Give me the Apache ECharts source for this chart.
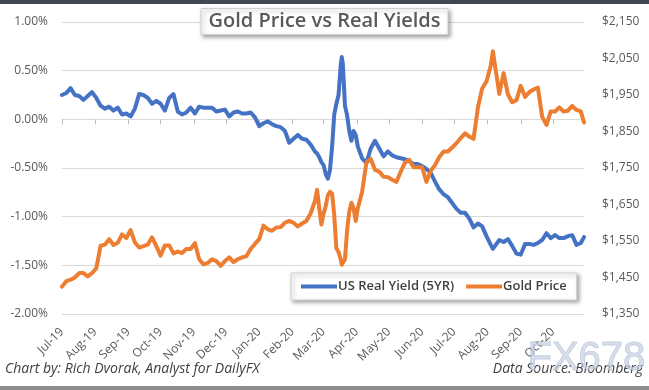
<!DOCTYPE html>
<html>
<head>
<meta charset="utf-8">
<script src="https://cdn.jsdelivr.net/npm/echarts@6/dist/echarts.min.js"></script>
<style>
html,body{margin:0;padding:0;background:#fff;}
#chart{width:649px;height:390px;}
</style>
</head>
<body>
<div id="chart"></div>
<script>
const dates = ['2019-07-01','2019-07-05','2019-07-09','2019-07-13','2019-07-17','2019-07-21','2019-07-25','2019-07-29',
'2019-08-02','2019-08-06','2019-08-10','2019-08-14','2019-08-18','2019-08-22','2019-08-26','2019-08-30',
'2019-09-03','2019-09-07','2019-09-11','2019-09-15','2019-09-19','2019-09-23','2019-09-27',
'2019-10-01','2019-10-05','2019-10-09','2019-10-13','2019-10-17','2019-10-21','2019-10-25','2019-10-29',
'2019-11-02','2019-11-06','2019-11-10','2019-11-14','2019-11-18','2019-11-22','2019-11-26','2019-11-30',
'2019-12-04','2019-12-08','2019-12-12','2019-12-16','2019-12-20','2019-12-24','2019-12-28',
'2020-01-01','2020-01-05','2020-01-09','2020-01-13','2020-01-17','2020-01-21','2020-01-25','2020-01-29',
'2020-02-02','2020-02-06','2020-02-10','2020-02-14','2020-02-18','2020-02-22','2020-02-24','2020-02-26','2020-02-28',
'2020-03-01','2020-03-03','2020-03-05','2020-03-07','2020-03-09','2020-03-11','2020-03-13','2020-03-15','2020-03-17','2020-03-18','2020-03-19',
'2020-03-21','2020-03-23','2020-03-25','2020-03-27','2020-03-29','2020-03-31',
'2020-04-02','2020-04-06','2020-04-10','2020-04-14','2020-04-18','2020-04-22','2020-04-26','2020-04-30',
'2020-05-04','2020-05-08','2020-05-12','2020-05-16','2020-05-20','2020-05-24','2020-05-28',
'2020-06-01','2020-06-05','2020-06-09','2020-06-13','2020-06-17','2020-06-21','2020-06-25','2020-06-29',
'2020-07-03','2020-07-07','2020-07-11','2020-07-15','2020-07-19','2020-07-23','2020-07-27','2020-07-31',
'2020-08-04','2020-08-06','2020-08-08','2020-08-12','2020-08-16','2020-08-20','2020-08-24','2020-08-28',
'2020-09-01','2020-09-05','2020-09-09','2020-09-13','2020-09-17','2020-09-21','2020-09-25','2020-09-29',
'2020-10-03','2020-10-07','2020-10-11','2020-10-15','2020-10-19','2020-10-23','2020-10-27','2020-10-30'];

const realYield = [0.25,0.27,0.32,0.25,0.24,0.20,0.24,0.28,
0.22,0.14,0.11,0.13,0.09,0.12,0.05,0.06,
0.03,0.11,0.26,0.25,0.22,0.16,0.19,
0.16,0.09,0.22,0.26,0.08,0.05,0.07,0.12,
0.06,0.13,0.12,0.12,0.12,0.08,0.09,0.10,
0.03,0.07,0.08,0.06,0.06,0.07,0.02,
-0.07,-0.04,-0.02,-0.05,-0.07,-0.08,-0.12,-0.24,
-0.20,-0.16,-0.20,-0.21,-0.26,-0.33,-0.35,-0.39,-0.44,
-0.47,-0.56,-0.61,-0.52,-0.28,0.05,0.16,0.25,0.55,0.64,0.57,
0.14,0.04,-0.12,-0.22,-0.12,-0.16,
-0.28,-0.40,-0.45,-0.30,-0.22,-0.30,-0.38,-0.33,
-0.37,-0.39,-0.40,-0.41,-0.43,-0.46,-0.46,
-0.48,-0.51,-0.55,-0.64,-0.72,-0.77,-0.80,-0.86,
-0.92,-0.96,-0.96,-1.02,-1.11,-1.07,-1.10,-1.20,
-1.29,-1.33,-1.30,-1.24,-1.26,-1.23,-1.30,-1.38,
-1.39,-1.28,-1.28,-1.29,-1.27,-1.24,-1.17,-1.22,
-1.19,-1.22,-1.22,-1.20,-1.19,-1.29,-1.27,-1.21];

const goldPrice = [1425,1440,1444,1450,1462,1462,1453,1462,
1475,1537,1540,1555,1539,1545,1568,1558,
1580,1546,1532,1536,1540,1560,1536,
1510,1538,1538,1516,1521,1517,1528,1528,
1544,1500,1486,1490,1500,1495,1482,1495,
1505,1492,1500,1505,1508,1528,1542,
1555,1592,1582,1578,1587,1588,1600,1605,
1600,1590,1598,1605,1626,1660,1690,1640,1595,
1625,1645,1675,1685,1680,1620,1530,1520,1500,1485,1480,
1500,1580,1630,1655,1640,1605,
1640,1685,1765,1775,1745,1740,1726,1725,
1718,1712,1740,1765,1772,1752,1752,
1752,1712,1742,1758,1780,1795,1795,1806,
1818,1832,1845,1836,1830,1915,1968,1987,
2030,2070,2030,1953,2010,1952,1930,1936,
1975,1945,1958,1965,1970,1890,1868,1905,
1905,1916,1905,1907,1920,1909,1905,1875];

const seriesNames = ['US Real Yield (5YR)', 'Gold Price'];
const monthNames = ['Jan','Feb','Mar','Apr','May','Jun','Jul','Aug','Sep','Oct','Nov','Dec'];
const xMin = '2019-07-01';
const xMax = '2020-10-30';

const FONT = 'Open Sans';
const chart = echarts.init(document.getElementById('chart'), null, {renderer: 'canvas'});

function fmtMonth(v) {
  const d = new Date(v);
  return monthNames[d.getMonth()] + '-' + String(d.getFullYear()).slice(2);
}
const DAY = 24 * 3600 * 1000;

const timeAxisBase = {
  type: 'time',
  min: xMin,
  max: xMax,
  splitNumber: 16,
  minInterval: 28 * DAY,
  maxInterval: 31 * DAY,
  splitLine: {show: false}
};

chart.setOption({
  animation: false,
  backgroundColor: '#ffffff',
  textStyle: {fontFamily: FONT},
  title: {
    text: 'Gold Price vs Real Yields',
    left: 'center',
    top: 8,
    padding: [3, 8, 4, 8],
    backgroundColor: '#ffffff',
    borderColor: '#d0d0d0',
    borderWidth: 1,
    shadowBlur: 4,
    shadowColor: 'rgba(0,0,0,0.35)',
    shadowOffsetX: 2,
    shadowOffsetY: 2,
    textStyle: {fontFamily: FONT, fontSize: 20, fontWeight: 600, color: '#595959'}
  },
  legend: {
    left: 291,
    top: 273,
    padding: [7, 10, 7, 10],
    backgroundColor: '#ffffff',
    borderColor: '#d0d0d0',
    borderWidth: 1,
    shadowBlur: 4,
    shadowColor: 'rgba(0,0,0,0.35)',
    shadowOffsetX: 2,
    shadowOffsetY: 2,
    itemWidth: 36,
    itemHeight: 4,
    itemGap: 12,
    icon: 'rect',
    textStyle: {fontFamily: FONT, fontSize: 13, fontWeight: 600, color: '#404040', padding: [0, 0, 0, -4]},
    data: seriesNames
  },
  grid: {left: 62, right: 65, top: 22, bottom: 76, containLabel: false},
  xAxis: [
    Object.assign({}, timeAxisBase, {
      position: 'bottom',
      axisLine: {show: false, onZero: false},
      axisTick: {show: false},
      axisLabel: {
        rotate: 45,
        margin: 16,
        hideOverlap: false,
        fontFamily: FONT,
        fontSize: 12,
        color: '#595959',
        showMaxLabel: false,
        formatter: fmtMonth
      }
    }),
    Object.assign({}, timeAxisBase, {
      position: 'bottom',
      axisLine: {show: true, onZero: true, onZeroAxisIndex: 0, lineStyle: {color: '#d9d9d9', width: 1}},
      axisTick: {show: true, inside: false, length: 5, lineStyle: {color: '#bfbfbf'}},
      axisLabel: {show: false}
    })
  ],
  yAxis: [
    {
      type: 'value',
      min: -2,
      max: 1,
      interval: 0.5,
      axisLine: {show: false},
      axisTick: {show: false},
      splitLine: {show: true, lineStyle: {color: '#d9d9d9', width: 1}},
      axisLabel: {
        margin: 14,
        fontFamily: FONT,
        fontSize: 12,
        color: '#595959',
        formatter: function (v) { return v.toFixed(2) + '%'; }
      }
    },
    {
      type: 'value',
      min: 1350,
      max: 2150,
      interval: 100,
      position: 'right',
      axisLine: {show: false},
      axisTick: {show: false},
      splitLine: {show: false},
      axisLabel: {
        margin: 18,
        fontFamily: FONT,
        fontSize: 12,
        color: '#595959',
        formatter: function (v) { return '$' + v.toLocaleString('en-US'); }
      }
    }
  ],
  series: [
    {
      name: seriesNames[0],
      type: 'line',
      xAxisIndex: 0,
      yAxisIndex: 0,
      showSymbol: false,
      symbol: 'none',
      lineStyle: {color: '#4472C4', width: 4, cap: 'round', join: 'round'},
      itemStyle: {color: '#4472C4'},
      data: dates.map(function (d, i) { return [d, realYield[i]]; })
    },
    {
      name: seriesNames[1],
      type: 'line',
      xAxisIndex: 0,
      yAxisIndex: 1,
      showSymbol: false,
      symbol: 'none',
      lineStyle: {color: '#ED7D31', width: 4, cap: 'round', join: 'round'},
      itemStyle: {color: '#ED7D31'},
      data: dates.map(function (d, i) { return [d, goldPrice[i]]; })
    }
  ],
  graphic: [
    {type: 'rect', left: 0, top: 0, shape: {width: 649, height: 4}, style: {fill: '#3f4853'}, z: 100},
    {type: 'rect', left: 0, top: 386, shape: {width: 649, height: 4}, style: {fill: '#8c8c8c'}, z: 100},
    {type: 'text', left: 5, top: 362, style: {text: 'Chart by: Rich Dvorak, Analyst for DailyFX', fontFamily: FONT, fontSize: 14, fontStyle: 'italic', fill: '#404040'}},
    {type: 'text', right: 6, top: 362, style: {text: 'Data Source: Bloomberg', fontFamily: FONT, fontSize: 14, fontStyle: 'italic', fill: '#404040'}},
    {type: 'text', left: 527, top: 338, style: {text: 'FX678', fontFamily: 'Liberation Sans', fontSize: 40, fontWeight: 'normal', fill: 'rgba(200,210,228,0.7)', stroke: 'rgba(150,165,190,0.55)', lineWidth: 1}, z: 50}
  ]
});
</script>
</body>
</html>
